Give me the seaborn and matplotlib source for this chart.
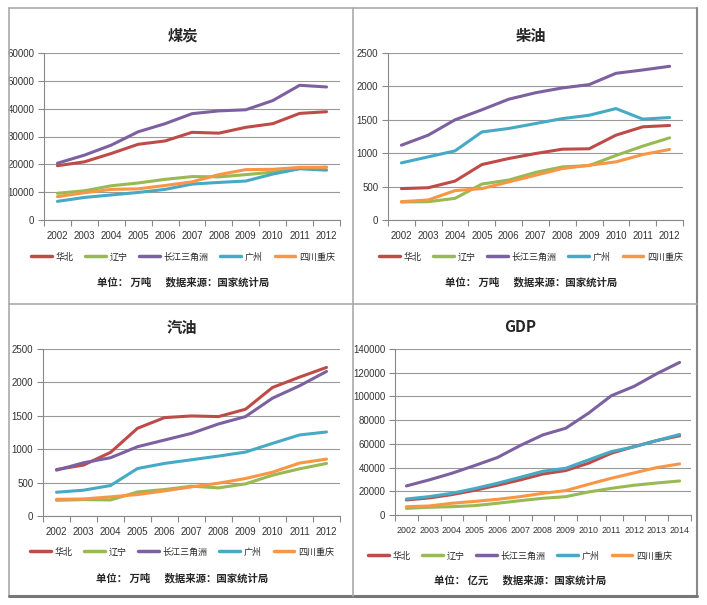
import numpy as np
import pandas as pd
import matplotlib
matplotlib.use("Agg")
import matplotlib.pyplot as plt
from matplotlib.lines import Line2D
from matplotlib.ticker import FixedLocator, NullFormatter
import seaborn as sns

sns.set_theme(style="white")
plt.rcParams['font.family'] = ['Noto Sans CJK SC', 'DejaVu Sans']

regions = ["华北", "辽宁", "长江三角洲", "广州", "四川重庆"]
colors = ["#BE4B48", "#98B954", "#7D60A0", "#46AAC5", "#F79646"]

years_a = [str(y) for y in range(2002, 2013)]
years_gdp = [str(y) for y in range(2002, 2015)]

# 煤炭 (万吨)
coal_hb = [19500, 20900, 23900, 27200, 28400, 31500, 31200, 33300, 34600, 38300, 38900]
coal_ln = [9600, 10500, 12300, 13300, 14600, 15600, 15500, 16300, 17200, 18500, 19000]
coal_cj = [20400, 23300, 26900, 31700, 34600, 38200, 39200, 39600, 42900, 48400, 47800]
coal_gz = [6700, 8100, 9000, 9900, 11000, 12900, 13500, 14000, 16500, 18400, 17900]
coal_sc = [8400, 9800, 11000, 11200, 12400, 13700, 16300, 18100, 18200, 18900, 18900]

# 柴油 (万吨)
dsl_hb = [470, 483, 583, 830, 920, 995, 1060, 1066, 1270, 1395, 1415]
dsl_ln = [270, 274, 324, 538, 598, 712, 795, 815, 966, 1106, 1230]
dsl_cj = [1120, 1270, 1500, 1650, 1808, 1905, 1977, 2027, 2196, 2246, 2301]
dsl_gz = [855, 945, 1035, 1318, 1370, 1444, 1518, 1568, 1668, 1510, 1534]
dsl_sc = [274, 300, 440, 470, 570, 670, 770, 820, 870, 980, 1056]

# 汽油 (万吨)
gas_hb = [696, 762, 952, 1313, 1473, 1498, 1488, 1598, 1924, 2079, 2224]
gas_ln = [235, 245, 240, 360, 396, 446, 421, 481, 611, 706, 787]
gas_cj = [686, 797, 872, 1037, 1137, 1237, 1378, 1488, 1764, 1949, 2164]
gas_gz = [356, 386, 456, 711, 787, 842, 897, 957, 1087, 1213, 1258]
gas_sc = [250, 255, 286, 321, 376, 436, 491, 561, 656, 792, 852]

# GDP (亿元)
gdp_hb = [12700, 14400, 17200, 20800, 25100, 29600, 34600, 37500, 43700, 52100, 57700, 62800, 66800]
gdp_ln = [5600, 6500, 7000, 7900, 9900, 12100, 14100, 15500, 19400, 22500, 25100, 27000, 28700]
gdp_cj = [24500, 29600, 35200, 41700, 48500, 58600, 67600, 73200, 85900, 100600, 108500, 119200, 128700]
gdp_gz = [13500, 15500, 18300, 22300, 26800, 31800, 36900, 39400, 46500, 53500, 57500, 62800, 67900]
gdp_sc = [7000, 7600, 9900, 11500, 13200, 15500, 18300, 20600, 25900, 31000, 35500, 40000, 43100]

W, H = 707, 605
fig = plt.figure(figsize=(W / 100, H / 100), dpi=100)


def fx(px):
    return px / W


def fy(py):
    return 1 - py / H


panels = [
    ("煤炭", years_a, [coal_hb, coal_ln, coal_cj, coal_gz, coal_sc], np.arange(0, 60001, 10000),
     (44, 53, 340, 220), "单位： 万吨", 36, 257, 282, 183, 7),
    ("柴油", years_a, [dsl_hb, dsl_ln, dsl_cj, dsl_gz, dsl_sc], np.arange(0, 2501, 500),
     (388, 53, 683, 220), "单位： 万吨", 36, 257, 282, 531, 7),
    ("汽油", years_a, [gas_hb, gas_ln, gas_cj, gas_gz, gas_sc], np.arange(0, 2501, 500),
     (43, 349, 340, 516), "单位： 万吨", 328, 552, 578, 182, 7),
    ("GDP", years_gdp, [gdp_hb, gdp_ln, gdp_cj, gdp_gz, gdp_sc], np.arange(0, 140001, 20000),
     (395, 349, 691, 515), "单位： 亿元", 327, 556, 580, 520, 6.4),
]

tick_font = "Liberation Sans"

for title, years, series, yticks, box, unit, ty, ly, fty, cx, xfs in panels:
    x0, y0, x1, y1 = box
    ax = fig.add_axes([fx(x0), fy(y1), fx(x1) - fx(x0), fy(y0) - fy(y1)])
    rows = []
    for r, vals in zip(regions, series):
        for i, v in enumerate(vals):
            rows.append({"pos": i, "value": v, "region": r})
    df = pd.DataFrame(rows)
    sns.lineplot(data=df, x="pos", y="value", hue="region", hue_order=regions,
                 palette=colors, linewidth=2.2, ax=ax, legend=False)
    n = len(years)
    ax.set_xlim(-0.5, n - 0.5)
    ax.set_ylim(yticks[0], yticks[-1])
    ax.set_yticks(yticks)
    ax.set_yticklabels([str(int(t)) for t in yticks], fontsize=7, color="#333333",
                       family=tick_font)
    ax.set_xticks(range(n))
    ax.set_xticklabels(years, fontsize=xfs, color="#333333", family=tick_font)
    ax.xaxis.set_minor_locator(FixedLocator(np.arange(-0.5, n, 1)))
    ax.xaxis.set_minor_formatter(NullFormatter())
    ax.tick_params(axis="x", which="major", length=0, pad=8)
    ax.tick_params(axis="x", which="minor", length=4, color="#888888", width=0.8, bottom=True)
    ax.tick_params(axis="y", length=4, color="#888888", width=0.8, left=True, pad=3)
    ax.set_xlabel("")
    ax.set_ylabel("")
    ax.grid(axis="y", color="#999999", linewidth=0.8)
    ax.set_axisbelow(True)
    for s in ["top", "right"]:
        ax.spines[s].set_visible(False)
    for s in ["left", "bottom"]:
        ax.spines[s].set_color("#888888")
        ax.spines[s].set_linewidth(0.8)

    fig.text(fx(cx), fy(ty), title, ha="center", va="center", fontsize=11, fontweight="bold")
    handles = [Line2D([], [], color=c, linewidth=2.5) for c in colors]
    fig.legend(handles, regions, loc="center", bbox_to_anchor=(fx(cx), fy(ly)), ncol=5,
               frameon=False, fontsize=6.5, handlelength=2.3, columnspacing=1.3,
               handletextpad=0.4, borderpad=0, borderaxespad=0)
    fig.text(fx(cx), fy(fty), unit + "      数据来源：国家统计局", ha="center", va="center",
             fontsize=7.5, fontweight="bold")

# panel borders
border = "#aaaaaa"
fig.add_artist(Line2D([fx(9), fx(697)], [fy(8), fy(8)], color=border, lw=1.2))
fig.add_artist(Line2D([fx(9), fx(9)], [fy(8), fy(596)], color=border, lw=1.2))
fig.add_artist(Line2D([fx(697), fx(697)], [fy(8), fy(596)], color="#888888", lw=1.5))
fig.add_artist(Line2D([fx(9), fx(697)], [fy(596), fy(596)], color="#777777", lw=2.2))
fig.add_artist(Line2D([fx(353), fx(353)], [fy(8), fy(596)], color=border, lw=1.2))
fig.add_artist(Line2D([fx(9), fx(697)], [fy(304), fy(304)], color=border, lw=1.2))

fig.savefig("out.png", dpi=100)
